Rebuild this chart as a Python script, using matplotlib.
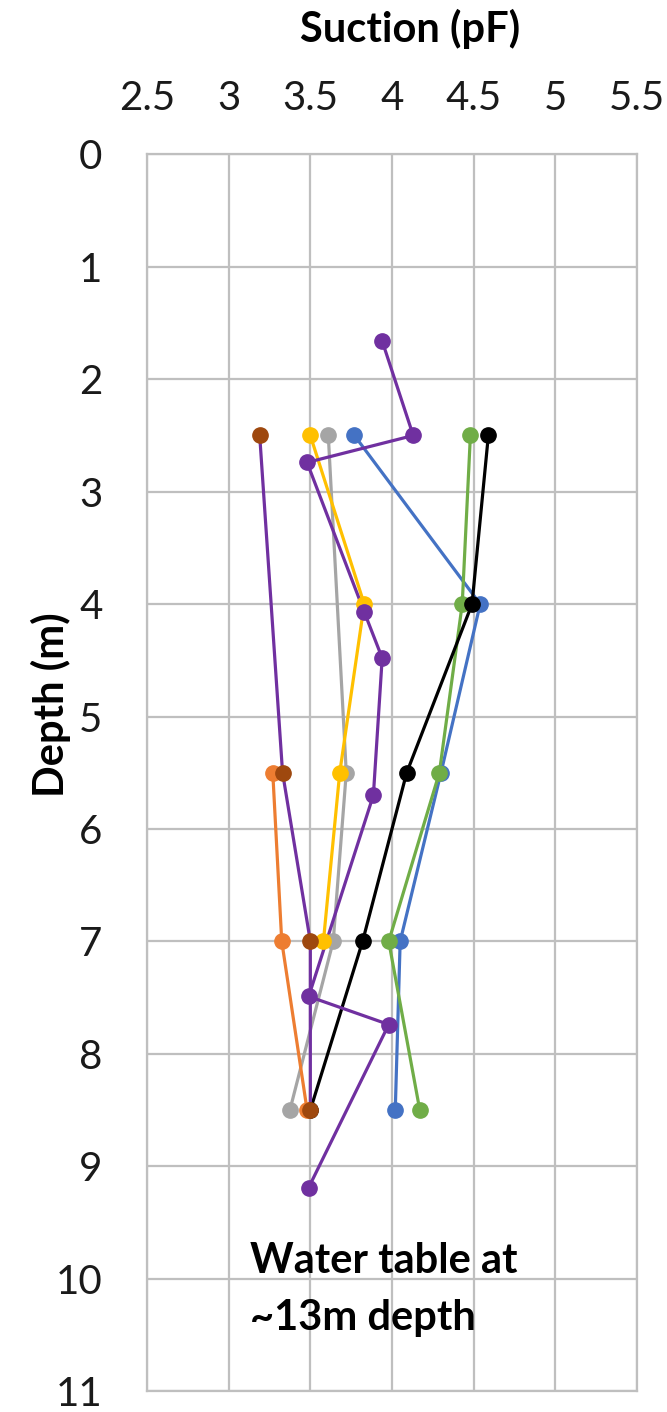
import matplotlib.pyplot as plt
import numpy as np

plt.rcParams['font.family'] = ['Lato', 'DejaVu Sans']

# 各测点的吸力(pF)与深度(m)
depth_blue = [2.5, 4.0, 5.5, 7.0, 8.5]
pf_blue = [3.77, 4.54, 4.30, 4.05, 4.02]

depth_orange = [5.5, 7.0, 8.5]
pf_orange = [3.27, 3.325, 3.48]

depth_gray = [2.5, 5.5, 7.0, 8.5]
pf_gray = [3.61, 3.72, 3.64, 3.375]

depth_yellow = [2.5, 4.0, 5.5, 7.0]
pf_yellow = [3.50, 3.83, 3.68, 3.58]

depth_green = [2.5, 4.0, 5.5, 7.0, 8.5]
pf_green = [4.48, 4.43, 4.29, 3.98, 4.17]

depth_black = [2.5, 4.0, 5.5, 7.0, 8.5]
pf_black = [4.59, 4.49, 4.09, 3.82, 3.50]

depth_brown = [2.5, 5.5, 7.0, 8.5]
pf_brown = [3.19, 3.33, 3.50, 3.50]

depth_purple = [1.66, 2.5, 2.74, 4.07, 4.48, 5.70, 7.49, 7.74, 9.19]
pf_purple = [3.94, 4.13, 3.48, 3.83, 3.94, 3.886, 3.49, 3.98, 3.49]

x_ticks = [2.5, 3, 3.5, 4, 4.5, 5, 5.5]
y_ticks = list(range(0, 12))

# (数据, 线色, 点色), 按绘制先后排列
series = [
    (pf_gray, depth_gray, '#A5A5A5', '#A5A5A5'),
    (pf_blue, depth_blue, '#4472C4', '#4472C4'),
    (pf_yellow, depth_yellow, '#FFC000', '#FFC000'),
    (pf_green, depth_green, '#70AD47', '#70AD47'),
    (pf_black, depth_black, '#000000', '#000000'),
    (pf_orange, depth_orange, '#ED7D31', '#ED7D31'),
    (pf_brown, depth_brown, '#7030A0', '#9E480E'),
    (pf_purple, depth_purple, '#7030A0', '#7030A0'),
]


def show_figure(filename):
    fig = plt.figure(figsize=(6.67, 14.12), dpi=100)
    ax = fig.add_axes([0.2204, 0.0149, 0.7346, 0.8757])

    for x, y, lc, mc in series:
        ax.plot(x, y, '-', color=lc, lw=2.3, zorder=3)
        ax.plot(x, y, 'o', color=mc, ms=11, zorder=4)

    ax.set_xlim(2.5, 5.5)
    ax.set_ylim(11, 0)
    ax.set_xticks(x_ticks)
    ax.set_xticklabels([f'{t:g}' for t in x_ticks])
    ax.set_yticks(y_ticks)
    ax.xaxis.tick_top()
    ax.tick_params(axis='both', length=0, labelsize=29, colors='#1a1a1a')
    ax.tick_params(axis='x', pad=27)
    ax.tick_params(axis='y', pad=32)
    ax.grid(True, color='#BFBFBF', lw=1.6)
    for s in ax.spines.values():
        s.set_color('#BFBFBF')
        s.set_linewidth(1.6)

    fig.text(410 / 667, 1 - 29 / 1412, 'Suction (pF)', ha='center', va='center',
             fontsize=30, fontweight='bold')
    fig.text(51 / 667, 1 - 705 / 1412, 'Depth (m)', ha='center', va='center',
             rotation=90, fontsize=30, fontweight='bold')
    ax.text(3.13, 9.95, 'Water table at', ha='left', va='baseline',
            fontsize=30, fontweight='bold')
    ax.text(3.13, 10.46, '~13m depth', ha='left', va='baseline',
            fontsize=30, fontweight='bold')

    plt.savefig(filename, dpi=100)


if __name__ == "__main__":
    show_figure('out.png')
